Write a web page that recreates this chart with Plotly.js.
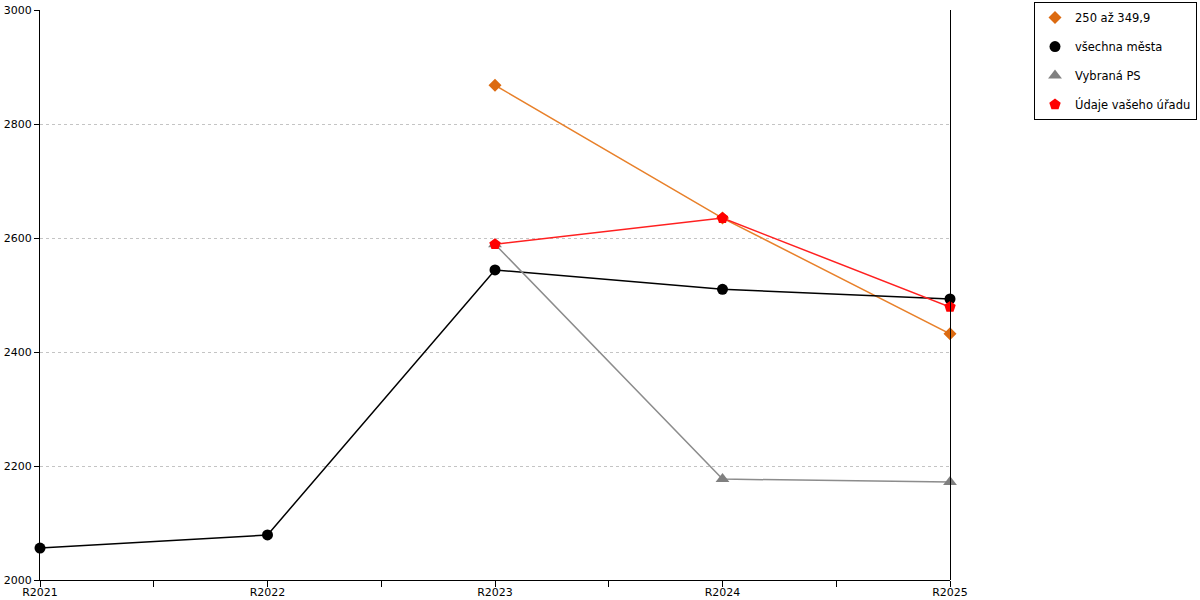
<!DOCTYPE html>
<html>
<head>
<meta charset="utf-8">
<script src="https://cdn.plot.ly/plotly-3.0.1.min.js"></script>
<style>html,body{margin:0;padding:0;background:#fff;}#chart{width:1200px;height:600px;}</style>
</head>
<body>
<div id="chart"></div>
<script>
const categories = ["R2021", "R2022", "R2023", "R2024", "R2025"];
const seriesOrange = [null, null, 2868, 2635, 2432];
const seriesAll = [2056, 2079, 2544, 2510, 2493];
const seriesPS = [null, null, 2589, 2177, 2172];
const seriesOffice = [null, null, 2589, 2635, 2479];
const seriesNames = ["250 až 349,9", "všechna města", "Vybraná PS", "Údaje vašeho úřadu"];
const yTicks = [2000, 2200, 2400, 2600, 2800, 3000];

const xIdx = categories.map((c, i) => i);
const styles = [
  {line: '#e8802a', marker: '#dc6a10', symbol: 'diamond', size: 10},
  {line: '#000000', marker: '#000000', symbol: 'circle', size: 11},
  {line: '#8c8c8c', marker: '#808080', symbol: 'triangle-up', size: 12},
  {line: '#ff2020', marker: '#ff0000', symbol: 'pentagon', size: 12}
];
const series = [seriesOrange, seriesAll, seriesPS, seriesOffice];
const data = [];
series.forEach((y, k) => {
  const xs = [], ys = [];
  y.forEach((v, i) => { if (v !== null) { xs.push(xIdx[i]); ys.push(v); } });
  const s = styles[k];
  data.push({
    type: 'scatter', mode: 'lines+markers', name: seriesNames[k], x: xs, y: ys,
    showlegend: false, legendgroup: 'g' + k,
    line: {color: s.line, width: 1.5},
    marker: {color: s.marker, symbol: s.symbol, size: s.size},
    cliponaxis: false
  });
});
series.forEach((y, k) => {
  const s = styles[k];
  data.push({
    type: 'scatter', mode: 'markers', name: seriesNames[k], x: [null], y: [null],
    showlegend: true, legendgroup: 'g' + k,
    marker: {color: s.marker, symbol: s.symbol, size: s.size}
  });
});
const layout = {
  width: 1200, height: 600,
  margin: {l: 40, r: 250, t: 10, b: 20, autoexpand: false},
  paper_bgcolor: '#fff', plot_bgcolor: '#fff',
  font: {family: 'DejaVu Sans', size: 11, color: '#000'},
  showlegend: true,
  legend: {
    x: (1034 - 40) / 910, xanchor: 'left', y: 1.014, yanchor: 'top',
    bordercolor: '#000', borderwidth: 1,
    font: {family: 'DejaVu Sans', size: 11.5, color: '#000'},
    traceorder: 'grouped', tracegroupgap: 10,
    itemwidth: 30
  },
  xaxis: {
    range: [0, 4], tickvals: xIdx, ticktext: categories,
    showgrid: false, zeroline: false,
    showline: true, linecolor: '#000', linewidth: 1,
    ticks: 'outside', ticklen: 6, tickcolor: '#000',
    ticklabelstandoff: -4,
    minor: {tickvals: [0.5, 1.5, 2.5, 3.5], ticks: 'outside', ticklen: 6, tickcolor: '#000', showgrid: false},
    tickfont: {size: 11}
  },
  yaxis: {
    range: [2000, 3000], tickvals: yTicks,
    showgrid: true, gridcolor: '#c4c4c4', griddash: 'dot', gridwidth: 1,
    zeroline: false, showline: true, linecolor: '#000', linewidth: 1,
    ticks: 'outside', ticklen: 5, tickcolor: '#000',
    tickfont: {size: 11}
  },
  shapes: [{type: 'line', xref: 'paper', yref: 'paper', x0: 1 + 0.5 / 910, x1: 1 + 0.5 / 910, y0: 0, y1: 1, line: {color: '#000', width: 1}}]
};
Plotly.newPlot('chart', data, layout, {displayModeBar: false, staticPlot: true});
</script>
</body>
</html>
